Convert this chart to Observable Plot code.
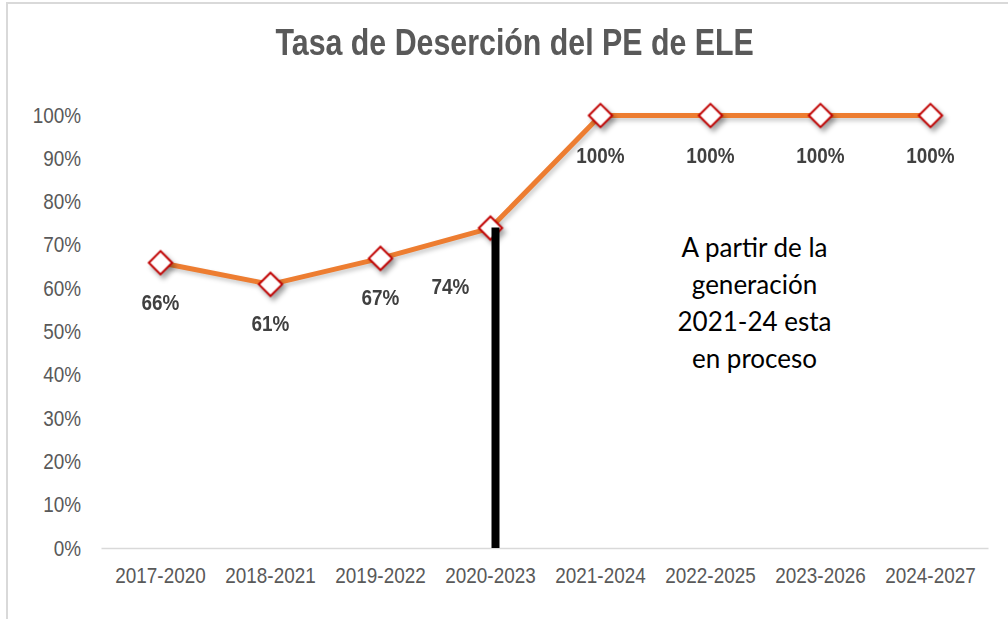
<!DOCTYPE html>
<html>
<head>
<meta charset="utf-8">
<script src="https://cdn.jsdelivr.net/npm/d3@7"></script>
<script src="https://cdn.jsdelivr.net/npm/@observablehq/plot@0.6"></script>
<style>
  html, body { margin: 0; padding: 0; background: #fff; }
  #wrap { position: relative; width: 1008px; height: 619px; overflow: hidden; background: #fff; }
  #frame { position: absolute; left: 6px; top: 2px; width: 1010px; height: 630px;
           border-top: 2px solid #d9d9d9; border-left: 2px solid #d9d9d9; box-sizing: border-box; }
  #title { position: absolute; left: 0; width: 1030px; top: 21px; text-align: center;
           font-family: "Liberation Sans", Arial, sans-serif; font-weight: bold; font-size: 37px;
           line-height: 44px; color: #595959; }
  #title span { display: inline-block; transform: scaleX(0.82); transform-origin: 50% 50%; white-space: nowrap; }
  #chart { position: absolute; left: 0; top: 90px; }
</style>
</head>
<body>
<div id="wrap">
  <div id="frame"></div>
  <div id="title"><span>Tasa de Deserción del PE de ELE</span></div>
  <div id="chart"></div>
</div>
<script>
const categories = ["2017-2020","2018-2021","2019-2022","2020-2023","2021-2024","2022-2025","2023-2026","2024-2027"];
const rates = [0.66, 0.61, 0.67, 0.74, 1.00, 1.00, 1.00, 1.00];
const rateLabels = ["66%","61%","67%","74%","100%","100%","100%","100%"];
const yTicks = [0, 0.1, 0.2, 0.3, 0.4, 0.5, 0.6, 0.7, 0.8, 0.9, 1.0];
const markerCategory = "2020-2023";
const markerValue = 0.74;
const noteCategory = "2022-2025";
const noteValue = 0.573;
const noteText = "A partir de la\ngeneración\n2021-24 esta\nen proceso";

const data = categories.map((c, i) => ({cat: c, rate: rates[i], label: rateLabels[i]}));
const font = "'Liberation Sans', Arial, sans-serif";

const chart = Plot.plot({
  width: 1008,
  height: 529,
  marginLeft: 101.5,
  marginRight: 19.5,
  marginTop: 25,
  marginBottom: 71,
  style: {fontFamily: font, color: "#595959", background: "transparent"},
  x: {type: "point", domain: categories, padding: 0.5},
  y: {domain: [0, 1]},
  marks: [
    Plot.axisY({ticks: yTicks, tickFormat: d3.format(".0%"), tickSize: 0, tickPadding: 21, fontSize: 22, label: null}),
    Plot.axisX({tickSize: 0, tickPadding: 19, fontSize: 22, label: null}),
    Plot.ruleY([0], {stroke: "#d9d9d9", strokeWidth: 1.5}),
    Plot.line(data, {x: "cat", y: "rate", stroke: "#ED7D31", strokeWidth: 5}),
    Plot.dot(data, {x: "cat", y: "rate", symbol: "diamond2", r: 10.5, fill: "white", stroke: "#C00000", strokeWidth: 2}),
    Plot.ruleX([markerCategory], {x: d => d, y1: 0, y2: markerValue, stroke: "black", strokeWidth: 8, dx: 5}),
    Plot.text(data.filter(d => d.cat !== markerCategory), {x: "cat", y: "rate", text: "label", dy: 40, fontSize: 22, fontWeight: "bold", fill: "#404040"}),
    Plot.text(data.filter(d => d.cat === markerCategory), {x: "cat", y: "rate", text: "label", dx: -40, dy: 59, fontSize: 22, fontWeight: "bold", fill: "#404040"}),
    Plot.text([noteText], {x: () => noteCategory, y: () => noteValue, text: d => d, dx: 44, fontSize: 26, lineHeight: 1.42, fill: "black", fontFamily: "Lato, 'Open Sans', sans-serif"})
  ]
});
document.getElementById("chart").appendChild(chart);
// Condense the Arial-like texts horizontally around their anchor point (Excel narrow look)
d3.select(chart).selectAll("text").each(function() {
  if (this.querySelector("tspan") || this.textContent.includes("partir")) return;
  const b = this.getBBox();
  const anchor = getComputedStyle(this).textAnchor;
  const ax = anchor === "end" ? b.x + b.width : anchor === "middle" ? b.x + b.width / 2 : b.x;
  const t = this.getAttribute("transform") || "";
  this.setAttribute("transform", `${t} translate(${ax},0) scale(0.86,1) translate(${-ax},0)`);
});
d3.select(chart).selectAll('g[aria-label="dot"]').style("filter", "drop-shadow(3px 4px 2.5px rgba(0,0,0,0.35))");
d3.select(chart).selectAll('g[aria-label="line"]').style("filter", "drop-shadow(2px 3px 2px rgba(0,0,0,0.2))");
</script>
</body>
</html>
